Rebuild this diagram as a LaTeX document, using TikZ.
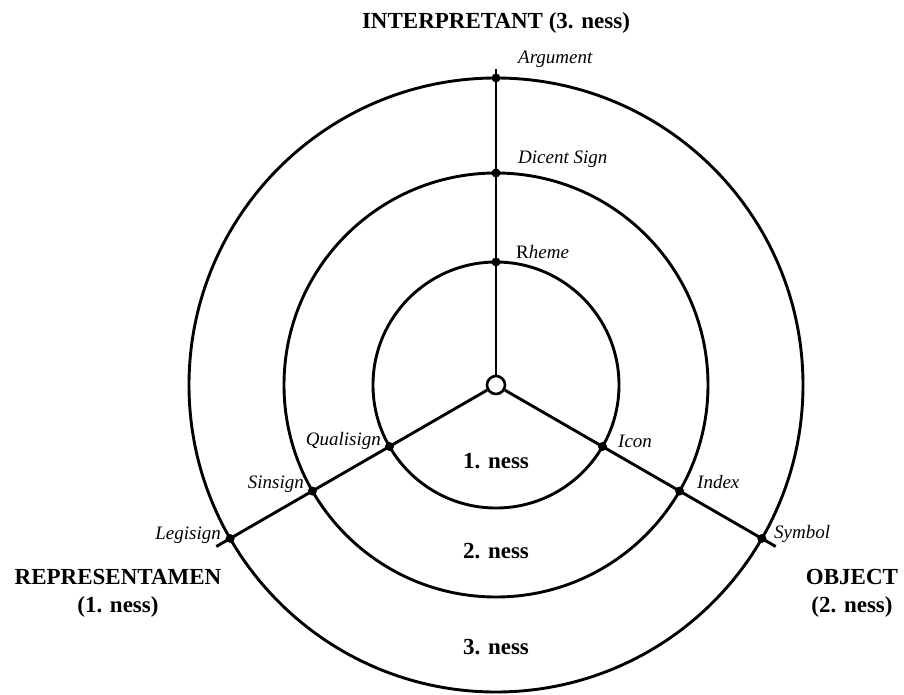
\documentclass[tikz,border=0pt]{standalone}
\usepackage{fontspec}
\setmainfont{Liberation Serif}
\begin{document}
\begin{tikzpicture}[x=1pt,y=1pt,
  ring/.style={line width=2.9pt},
  spoke/.style={line width=2.9pt},
  dot/.style={circle,fill=black,inner sep=0pt,minimum size=9pt},
  hub/.style={circle,draw,fill=white,line width=2.6pt,inner sep=0pt,minimum size=18pt},
  lab/.style={font=\fontsize{19}{22}\selectfont\itshape,inner sep=1pt},
  head/.style={font=\fontsize{23}{27}\selectfont\bfseries,inner sep=0pt,align=center},
  ness/.style={font=\fontsize{23}{27}\selectfont\bfseries,inner sep=0pt}
]
\useasboundingbox (-496,-309) rectangle (408,385);
% rings
\draw[ring] (0,0) circle (123pt);
\draw[ring] (0,0) circle (212pt);
\draw[ring] (0,0) circle (307pt);
% spoke ends
\coordinate (eI) at (90:316);
\coordinate (eO) at (-30:323);
\coordinate (eR) at (210:323);
\node[hub] (c) at (0,0) {};
\draw[spoke] (c) -- (eI);
\draw[spoke] (c) -- (eO);
\draw[spoke] (c) -- (eR);
% dots
\node[dot] (rh) at (90:123) {};
\node[dot] (di) at (90:212) {};
\node[dot] (ar) at (90:307) {};
\node[dot] (ic) at (-30:123) {};
\node[dot] (in) at (-30:212) {};
\node[dot] (sy) at (-30:307) {};
\node[dot] (qu) at (210:123) {};
\node[dot] (si) at (210:212) {};
\node[dot] (le) at (210:307) {};
% labels
\node[lab,anchor=west] (lar) at (21,326) {Argument};
\node[lab,anchor=west] (ldi) at (21,226) {Dicent Sign};
\node[lab,anchor=west] (lrh) at (19,133) {{\upshape R}heme};
\node[lab,anchor=west] (lic) at (121,-56) {Icon};
\node[lab,anchor=west] (lin) at (200,-97) {Index};
\node[lab,anchor=west] (lsy) at (277,-149) {Symbol};
\node[lab,anchor=east] (lqu) at (-114,-56) {Qualisign};
\node[lab,anchor=east] (lsi) at (-191,-99) {Sinsign};
\node[lab,anchor=east] (lle) at (-274,-150) {Legisign};
% headings
\node[head] (hI) at (0,362) {INTERPRETANT (3. ness)};
\node[head] (hR) at (-378,-208) {REPRESENTAMEN\\[1pt](1. ness)};
\node[head] (hO) at (356,-208) {OBJECT\\[1pt](2. ness)};
% ness
\node[ness] (n1) at (0,-76) {1. ness};
\node[ness] (n2) at (0,-166) {2. ness};
\node[ness] (n3) at (0,-262) {3. ness};
\end{tikzpicture}
\end{document}
